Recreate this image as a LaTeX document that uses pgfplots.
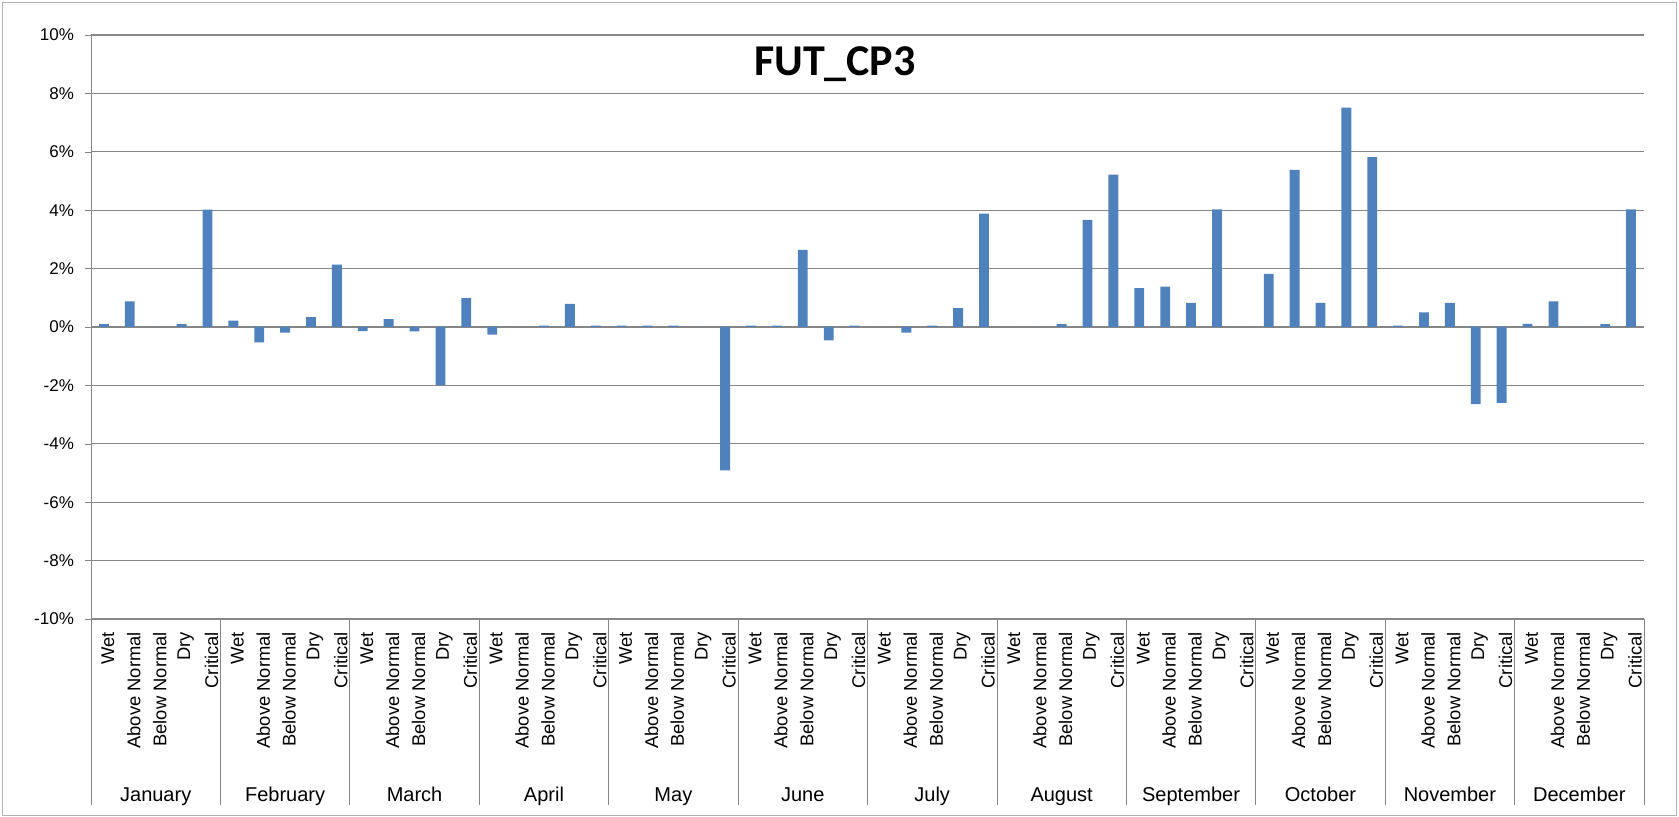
\documentclass[border=0pt]{standalone}
\usepackage{fontspec}
\setmainfont{Liberation Sans}
\newfontfamily\titlefont{Carlito}
\usepackage{pgfplots}
\usepackage{pgfplotstable}
\pgfplotsset{compat=1.18}
\definecolor{barblue}{HTML}{4F81BD}
\definecolor{gridgray}{HTML}{868686}

\pgfplotstableread{
x y
0 0.10
1 0.88
2 0
3 0.10
4 4.02
5 0.22
6 -0.53
7 -0.19
8 0.34
9 2.14
10 -0.14
11 0.27
12 -0.15
13 -1.99
14 0.99
15 -0.26
16 0
17 0.05
18 0.79
19 0.05
20 0.05
21 0.05
22 0.05
23 0
24 -4.91
25 0.05
26 0.05
27 2.64
28 -0.46
29 0.05
30 0
31 -0.19
32 0.05
33 0.65
34 3.88
35 0
36 0
37 0.10
38 3.67
39 5.22
40 1.33
41 1.38
42 0.83
43 4.03
44 0
45 1.82
46 5.38
47 0.83
48 7.51
49 5.82
50 0.05
51 0.50
52 0.83
53 -2.64
54 -2.60
55 0.11
56 0.88
57 0
58 0.10
59 4.03
}\datatable

\begin{document}
\begin{tikzpicture}
\begin{axis}[
  at={(0pt,0pt)}, anchor=south west,
  width=776.5pt, height=292pt, scale only axis,
  xmin=-0.5, xmax=59.5, ymin=-10, ymax=10,
  ybar, bar width=0.38,
  axis x line*=bottom, axis y line*=left,
  axis line style={gridgray, -},
  ymajorgrids, grid style={gridgray, line width=0.6pt},
  tick align=outside, major tick length=3pt,
  ytick={-10,-8,-6,-4,-2,0,2,4,6,8,10},
  yticklabels={-10\%,-8\%,-6\%,-4\%,-2\%,0\%,2\%,4\%,6\%,8\%,10\%},
  ytick style={gridgray},
  yticklabel style={font=\fontsize{8.5}{10}\selectfont, xshift=-2pt},
  xtick={0,...,59},
  xtick style={draw=none},
  xticklabels={Wet,Above Normal,Below Normal,Dry,Critical,
    Wet,Above Normal,Below Normal,Dry,Critical,
    Wet,Above Normal,Below Normal,Dry,Critical,
    Wet,Above Normal,Below Normal,Dry,Critical,
    Wet,Above Normal,Below Normal,Dry,Critical,
    Wet,Above Normal,Below Normal,Dry,Critical,
    Wet,Above Normal,Below Normal,Dry,Critical,
    Wet,Above Normal,Below Normal,Dry,Critical,
    Wet,Above Normal,Below Normal,Dry,Critical,
    Wet,Above Normal,Below Normal,Dry,Critical,
    Wet,Above Normal,Below Normal,Dry,Critical,
    Wet,Above Normal,Below Normal,Dry,Critical},
  xticklabel style={rotate=90, anchor=east, font=\fontsize{9.2}{10}\selectfont, yshift=-2pt},
  title={FUT\_CP3},
  title style={at={(axis description cs:0.479,0.93)}, anchor=center,
    font=\titlefont\bfseries\fontsize{22}{26}\selectfont},
  clip=false,
]
\addplot[fill=barblue, draw=none] table[x=x, y=y] {\datatable};
\pgfplotsinvokeforeach{0,...,12}{
  \draw[gridgray] (axis cs:{#1*5-0.5},-10) -- ++(0pt,-93pt);
}
\node[font=\fontsize{10}{12}\selectfont, anchor=base] at (axis cs:2,-10) [yshift=-91.5pt] {January};
\node[font=\fontsize{10}{12}\selectfont, anchor=base] at (axis cs:7,-10) [yshift=-91.5pt] {February};
\node[font=\fontsize{10}{12}\selectfont, anchor=base] at (axis cs:12,-10) [yshift=-91.5pt] {March};
\node[font=\fontsize{10}{12}\selectfont, anchor=base] at (axis cs:17,-10) [yshift=-91.5pt] {April};
\node[font=\fontsize{10}{12}\selectfont, anchor=base] at (axis cs:22,-10) [yshift=-91.5pt] {May};
\node[font=\fontsize{10}{12}\selectfont, anchor=base] at (axis cs:27,-10) [yshift=-91.5pt] {June};
\node[font=\fontsize{10}{12}\selectfont, anchor=base] at (axis cs:32,-10) [yshift=-91.5pt] {July};
\node[font=\fontsize{10}{12}\selectfont, anchor=base] at (axis cs:37,-10) [yshift=-91.5pt] {August};
\node[font=\fontsize{10}{12}\selectfont, anchor=base] at (axis cs:42,-10) [yshift=-91.5pt] {September};
\node[font=\fontsize{10}{12}\selectfont, anchor=base] at (axis cs:47,-10) [yshift=-91.5pt] {October};
\node[font=\fontsize{10}{12}\selectfont, anchor=base] at (axis cs:52,-10) [yshift=-91.5pt] {November};
\node[font=\fontsize{10}{12}\selectfont, anchor=base] at (axis cs:57,-10) [yshift=-91.5pt] {December};
\end{axis}
\draw[gray!60] (-44.5pt,308.5pt) rectangle (792.5pt,-98pt);
\pgfresetboundingbox
\useasboundingbox (-45.5pt,309.5pt) rectangle (794pt,-99pt);
\end{tikzpicture}
\end{document}
